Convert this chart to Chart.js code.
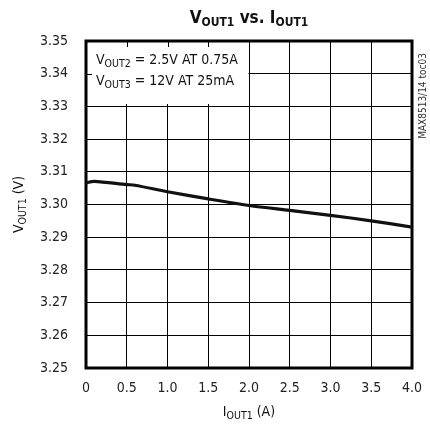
<!DOCTYPE html>
<html lang="en">
<head>
  <meta charset="UTF-8">
  <title>VOUT1 vs. IOUT1</title>
  <script src="https://cdn.jsdelivr.net/npm/chart.js"></script>
  <style>
    body { margin: 0; background: #fff; }
    #wrap { width: 430px; height: 430px; }
  </style>
</head>
<body>
  <div id="wrap"><canvas id="chart" width="430" height="430"></canvas></div>
  <script>
    // Load current (A) and output voltage (V)
    const iout1 = [0, 0.1, 0.5, 0.6, 1.0, 1.5, 2.0, 2.5, 3.0, 3.5, 4.0];
    const vout1 = [3.3066, 3.3071, 3.3061, 3.3059, 3.3039, 3.3017, 3.2997, 3.2982, 3.2967, 3.2950, 3.2931];
    const xTicks = [0, 0.5, 1.0, 1.5, 2.0, 2.5, 3.0, 3.5, 4.0];
    const yTicks = [3.25, 3.26, 3.27, 3.28, 3.29, 3.30, 3.31, 3.32, 3.33, 3.34, 3.35];
    // text pieces: [text, isSubscript]
    const titleParts = [["V", 0], ["OUT1", 1], [" vs. I", 0], ["OUT1", 1]];
    const xTitleParts = [["I", 0], ["OUT1", 1], [" (A)", 0]];
    const yTitleParts = [["V", 0], ["OUT1", 1], [" (V)", 0]];
    const noteLines = [
      [["V", 0], ["OUT2", 1], [" = 2.5V AT 0.75A", 0]],
      [["V", 0], ["OUT3", 1], [" = 12V AT 25mA", 0]]
    ];

    const FONT = '"Liberation Sans Narrow", "DejaVu Sans Condensed", sans-serif';

    // draws a run of normal / subscript pieces
    function subText(ctx, parts, x, y, size, subSize, bold, align) {
      const setF = s => { ctx.font = (bold ? "bold " : "") + s + "px " + FONT; };
      const widths = parts.map(p => { setF(p[1] ? subSize : size); return ctx.measureText(p[0]).width; });
      const total = widths.reduce((a, b) => a + b, 0);
      let x0 = align === "center" ? x - total / 2 : x;
      ctx.textAlign = "left";
      ctx.textBaseline = "alphabetic";
      parts.forEach((p, i) => {
        setF(p[1] ? subSize : size);
        ctx.fillText(p[0], x0, p[1] ? y + size * 0.2 : y);
        x0 += widths[i];
      });
    }

    const decor = {
      id: "decor",
      beforeDatasetsDraw(chart) {
        const { ctx, chartArea: a, scales } = chart;
        ctx.save();
        // white note box over the grid
        ctx.fillStyle = "#fff";
        ctx.fillRect(a.left, a.top, scales.x.getPixelForValue(2.0) - a.left - 0.5, 63);
        ctx.strokeStyle = "#000";
        ctx.lineWidth = 1;
        ctx.beginPath();
        [0.5, 1.0, 1.5].forEach(v => {
          const px = Math.round(scales.x.getPixelForValue(v)) + 0.5;
          ctx.moveTo(px, a.top); ctx.lineTo(px, a.top + 6);
        });
        const py = Math.round(scales.y.getPixelForValue(3.34)) + 0.5;
        ctx.moveTo(a.left, py); ctx.lineTo(a.left + 6, py);
        ctx.stroke();
        ctx.fillStyle = "#111";
        subText(ctx, noteLines[0], a.left + 10, a.top + 23, 14, 10.5, false);
        subText(ctx, noteLines[1], a.left + 10, a.top + 44, 14, 10.5, false);
        // thick frame
        ctx.lineWidth = 3;
        ctx.strokeRect(a.left, a.top, a.right - a.left, a.bottom - a.top);
        ctx.restore();
      },
      afterDraw(chart) {
        const { ctx, chartArea: a } = chart;
        ctx.save();
        ctx.fillStyle = "#111";
        const cx = (a.left + a.right) / 2;
        subText(ctx, titleParts, cx, 23, 17, 12, true, "center");
        subText(ctx, xTitleParts, cx, 416, 14, 10.5, false, "center");
        ctx.translate(23, (a.top + a.bottom) / 2);
        ctx.rotate(-Math.PI / 2);
        subText(ctx, yTitleParts, 0, 0, 14, 10.5, false, "center");
        ctx.restore();
        ctx.save();
        ctx.translate(426, 96);
        ctx.rotate(-Math.PI / 2);
        ctx.font = "10px " + FONT;
        ctx.textAlign = "center";
        ctx.fillStyle = "#333";
        ctx.fillText("MAX8513/14 toc03", 0, 0);
        ctx.restore();
      }
    };

    new Chart(document.getElementById("chart"), {
      type: "line",
      data: {
        datasets: [{
          data: iout1.map((x, i) => ({ x: x, y: vout1[i] })),
          borderColor: "#111",
          borderWidth: 3.2,
          pointRadius: 0,
          tension: 0.3,
          fill: false
        }]
      },
      options: {
        responsive: false,
        animation: false,
        layout: { padding: { top: 41, right: 18, left: 0, bottom: 0 } },
        plugins: { legend: { display: false }, tooltip: { enabled: false }, title: { display: false } },
        scales: {
          x: {
            type: "linear", min: 0, max: 4,
            afterBuildTicks: s => { s.ticks = xTicks.map(v => ({ value: v })); },
            afterFit: s => { s.height = 62; s.paddingLeft = 0; s.paddingRight = 0; },
            grid: { color: "#000", lineWidth: 1, drawTicks: false },
            border: { display: false },
            ticks: {
              padding: 12, color: "#222",
              font: { family: FONT, size: 14 },
              callback: v => v === 0 ? "0" : v.toFixed(1)
            }
          },
          y: {
            min: 3.25, max: 3.35,
            afterBuildTicks: s => { s.ticks = yTicks.map(v => ({ value: v })); },
            afterFit: s => { s.width = 86; s.paddingTop = 0; s.paddingBottom = 0; },
            grid: { color: "#000", lineWidth: 1, drawTicks: false },
            border: { display: false },
            ticks: {
              padding: 18, color: "#222",
              font: { family: FONT, size: 14 },
              callback: v => v.toFixed(2)
            }
          }
        }
      },
      plugins: [decor]
    });
  </script>
</body>
</html>
